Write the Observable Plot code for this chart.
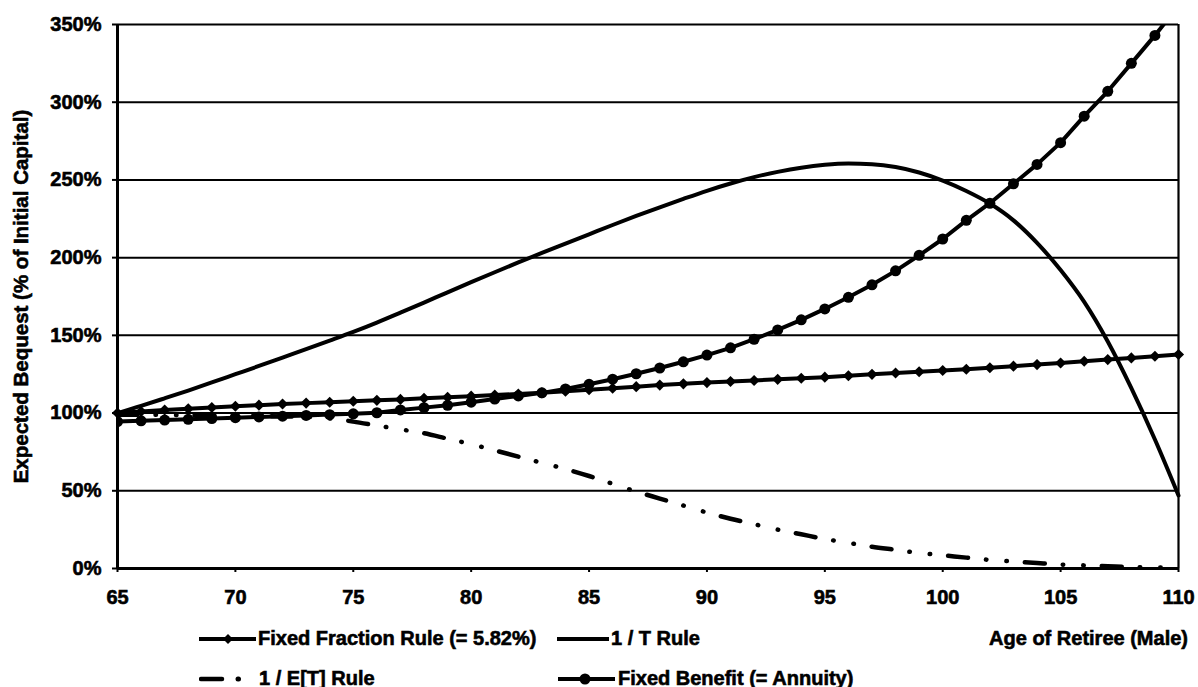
<!DOCTYPE html>
<html>
<head>
<meta charset="utf-8">
<script src="https://cdn.jsdelivr.net/npm/d3@7"></script>
<script src="https://cdn.jsdelivr.net/npm/@observablehq/plot@0.6"></script>
<style>
  html, body { margin: 0; padding: 0; background: #fff; }
  #wrap { position: relative; width: 1198px; height: 687px; font-family: "Liberation Sans", Arial, sans-serif; font-weight: bold; }
  #legend { position: relative; width: 1198px; height: 72px; }
  .item { position: absolute; display: flex; align-items: center; font-size: 20px; white-space: nowrap; -webkit-text-stroke: 0.6px #000; }
  .item svg { display: block; }
  #chart svg text { stroke: #000; stroke-width: 0.6px; paint-order: stroke; }
</style>
</head>
<body>
<div id="wrap">
  <div id="chart"></div>
  <div id="legend"></div>
</div>
<script>
const ages = [65,66,67,68,69,70,71,72,73,74,75,76,77,78,79,80,81,82,83,84,85,86,87,88,89,90,91,92,93,94,95,96,97,98,99,100,101,102,103,104,105,106,107,108,109,110];

const fixedFraction = [100,101,102,102.8,103.6,104.4,105.1,105.8,106.4,107,107.6,108.2,108.8,109.5,110.2,110.9,111.6,112.3,113,114,115,116,117,118,118.8,119.6,120.3,121,121.7,122.4,123.1,124,124.9,125.8,126.6,127.4,128.2,129.2,130.2,131.2,132.2,133.3,134.4,135.5,136.6,137.7];

const oneOverT = [100,104.6,109.5,114.5,119.7,125,130.3,135.7,141.1,146.6,152.2,158.2,164.6,171.1,177.7,184.2,190.6,196.9,203,209,215,221,226.8,232.4,237.8,243,247.7,251.8,255.2,257.9,259.7,260.5,260.1,258.3,254.8,249.6,242.9,234.8,224,209.5,192,171.5,146,116,83,47];

const oneOverET = [99,99,98.8,98.6,98.4,98.2,98,97.8,97.5,96.5,94.5,92,89.5,87,83.5,80,76,72,68,64,59.5,54.5,49.5,45,40.5,36,32,28.5,25,22,19,16.5,14,12,10,8.5,7,5.5,4.5,3.5,2.5,2,1.5,1,0.7,0.5];

const fixedBenefit = [94.5,95,95.5,96,96.5,97,97.5,98,98.5,99,99.5,100.2,102,103.5,105,107,109,111,113,115.5,118.5,121.8,125.3,129,133,137.3,142,147.5,153.5,160,167,174.5,182.5,191.5,201.5,212,224,235,247.5,260,274,291,307,325,343,362];

const xTicks = [65,70,75,80,85,90,95,100,105,110];
const yTicks = [0,50,100,150,200,250,300,350];

const seriesNames = ["Fixed Fraction Rule (= 5.82%)", "1 / T Rule", "1 / E[T] Rule", "Fixed Benefit (= Annuity)"];
const xLabel = "Age of Retiree (Male)";
const yLabel = "Expected Bequest (% of Initial Capital)";

const ff = ages.map((a, i) => ({age: a, v: fixedFraction[i]}));
const ot = ages.map((a, i) => ({age: a, v: oneOverT[i]}));
const oe = ages.map((a, i) => ({age: a, v: oneOverET[i]}));
const fb = ages.map((a, i) => ({age: a, v: fixedBenefit[i]}));

const chart = Plot.plot({
  width: 1198,
  height: 615,
  marginLeft: 117,
  marginRight: 20,
  marginTop: 24,
  marginBottom: 47,
  style: {fontFamily: "'Liberation Sans', Arial, sans-serif", fontWeight: "bold", fontSize: "20px", background: "#fff", color: "#000"},
  x: {domain: [65, 110]},
  y: {domain: [0, 350]},
  marks: [
    Plot.ruleY(yTicks.filter(d => d > 0), {stroke: "#000", strokeWidth: 2}),
    Plot.ruleY([0], {stroke: "#000", strokeWidth: 3}),
    Plot.ruleX([110], {stroke: "#000", strokeWidth: 2.2}),
    Plot.ruleX([65], {stroke: "#000", strokeWidth: 3}),
    Plot.axisY({ticks: yTicks, tickFormat: d => d + "%", tickSize: 5, tickPadding: 11, fontSize: 20, fontWeight: "bold", label: null, stroke: "#000", strokeWidth: 2}),
    Plot.axisX({ticks: xTicks, tickFormat: d => String(d), tickSize: 4, tickPadding: 17, fontSize: 20, fontWeight: "bold", label: null, stroke: "#000", strokeWidth: 2}),
    Plot.text([yLabel], {frameAnchor: "left", rotate: -90, dx: -96, fontSize: 20.5, fontWeight: "bold", fill: "#000", textAnchor: "middle", lineAnchor: "middle"}),
    // 1/E[T] dash-dot
    Plot.line(oe, {x: "age", y: "v", stroke: "#000", strokeWidth: 4.5, strokeDasharray: "20,18,0.5,20,0.5,18", strokeLinecap: "round", curve: "monotone-x"}),
    // Fixed fraction with diamonds
    Plot.line(ff, {x: "age", y: "v", stroke: "#000", strokeWidth: 4}),
    Plot.dot(ff, {x: "age", y: "v", symbol: "diamond2", r: 5, fill: "#000"}),
    // Fixed benefit with circles
    Plot.line(fb, {x: "age", y: "v", stroke: "#000", strokeWidth: 4, clip: true}),
    Plot.dot(fb, {x: "age", y: "v", r: 5.5, fill: "#000", clip: true}),
    // 1/T solid
    Plot.line(ot, {x: "age", y: "v", stroke: "#000", strokeWidth: 4, curve: "monotone-x"})
  ]
});
document.getElementById("chart").appendChild(chart);

// Legend (HTML below the SVG)
const legend = document.getElementById("legend");
function addItem(left, top, swatchSvg, text) {
  const div = document.createElement("div");
  div.className = "item";
  div.style.left = left + "px";
  div.style.top = top + "px";
  div.innerHTML = swatchSvg + "<span>" + text + "</span>";
  legend.appendChild(div);
}
const lineSw = (w, extra) => `<svg width="${w}" height="16" viewBox="0 0 ${w} 16"><line x1="0" y1="8" x2="${w}" y2="8" stroke="#000" stroke-width="4"/>${extra || ""}</svg>`;

addItem(199, 12, lineSw(57, `<path d="M29,3 L34,8 L29,13 L24,8 Z" fill="#000"/>`) + `<span style="width:2px"></span>`, seriesNames[0]);
addItem(557, 12, lineSw(52) + `<span style="width:2px"></span>`, seriesNames[1]);
addItem(199, 52, `<svg width="60" height="16" viewBox="0 0 60 16"><line x1="2" y1="8" x2="23" y2="8" stroke="#000" stroke-width="4.5" stroke-linecap="round"/><line x1="39" y1="8" x2="39.5" y2="8" stroke="#000" stroke-width="5" stroke-linecap="round"/></svg>`, seriesNames[2]);
addItem(558, 52, lineSw(57, `<circle cx="27" cy="8" r="5.5" fill="#000"/>`) + `<span style="width:3px"></span>`, seriesNames[3]);

const ax = document.createElement("div");
ax.className = "item";
ax.style.right = "10px";
ax.style.top = "12px";
ax.textContent = xLabel;
legend.appendChild(ax);
</script>
</body>
</html>
